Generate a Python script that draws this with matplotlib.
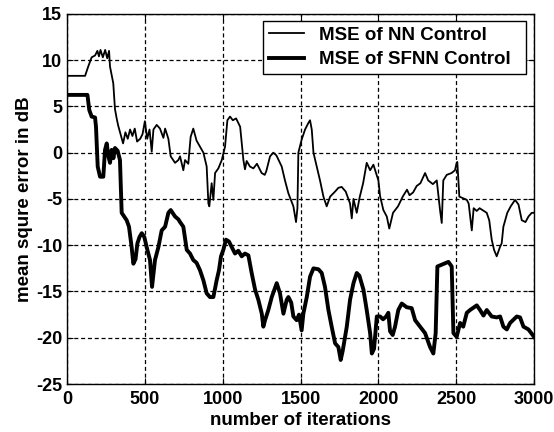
import matplotlib
matplotlib.use('Agg')
import matplotlib.pyplot as plt

# MSE of NN control (thin line)
nn_iter = [0, 116, 136, 158, 180, 195, 205, 215, 230, 245, 258, 270, 276, 297, 308, 320, 329, 345,
           360, 375, 390, 405, 420, 435, 450, 470, 485, 500, 515, 530, 544, 555, 576, 597, 619, 630,
           651, 666, 694, 715, 726, 747, 758, 779, 794, 811, 832, 854, 876, 897, 908, 914, 929, 940,
           951, 972, 994, 1015, 1030, 1047, 1065, 1086, 1112, 1133, 1143, 1154, 1175, 1197, 1220,
           1250, 1270, 1280, 1304, 1325, 1345, 1379, 1400, 1422, 1454, 1471, 1480, 1486, 1507, 1529,
           1550, 1561, 1572, 1583, 1604, 1625, 1647, 1668, 1690, 1722, 1743, 1764, 1790, 1818, 1829,
           1840, 1861, 1880, 1902, 1925, 1947, 1968, 2000, 2011, 2032, 2054, 2070, 2094, 2126, 2158,
           2184, 2200, 2223, 2246, 2270, 2300, 2320, 2350, 2375, 2396, 2407, 2417, 2439, 2470, 2492,
           2503, 2507, 2520, 2568, 2580, 2600, 2612, 2632, 2650, 2696, 2712, 2728, 2743, 2760, 2781,
           2792, 2803, 2828, 2850, 2878, 2900, 2921, 2945, 2964, 2985, 3000]
nn_mse = [8.3, 8.3, 9.3, 10.3, 10.5, 11.0, 10.4, 11.1, 10.3, 11.1, 10.2, 11.0, 9.3, 7.5, 4.7, 3.6, 2.9, 1.9,
          1.0, 2.2, 1.5, 2.5, 1.8, 2.6, 1.2, 1.5, 2.0, 3.4, 1.5, 2.5, 0.1, 2.5, 3.0, 2.6, 1.6, 2.6,
          1.5, -0.4, -1.1, -0.8, -0.4, -1.9, -0.8, -1.2, 1.7, 2.6, 1.3, 0.65, 0.0, -1.5, -5.5, -5.8, -3.3, -5.1,
          -2.2, -1.7, -0.8, 0.65, 3.5, 3.9, 3.5, 3.7, 2.8, -0.8, -1.8, -0.9, -1.5, -1.7, -1.2,
          -2.2, -2.4, -2.0, -0.4, 0.0, -0.3, -1.5, -3.0, -4.4, -5.8, -7.5, -6.0, 0.0, 1.4, 2.5,
          3.2, 3.5, 2.5, 0.0, -1.5, -3.0, -4.75, -5.8, -4.75, -4.2, -3.8, -3.7, -4.2, -5.5, -7.1,
          -5.0, -6.5, -4.8, -3.3, -1.1, -1.9, -1.3, -3.0, -4.7, -6.2, -6.9, -8.2, -6.5, -5.8, -4.7,
          -4.0, -4.6, -4.3, -3.6, -3.3, -2.2, -3.0, -3.4, -3.0, -6.2, -7.6, -3.0, -2.4, -2.2, -1.9,
          -1.1, -1.0, -4.75, -5.1, -5.5, -8.4, -6.0, -6.3, -6.0, -6.5, -7.3, -9.4, -10.5, -11.2, -10.2,
          -9.8, -8.0, -6.5, -5.8, -5.1, -5.6, -7.3, -7.5, -6.9, -6.5, -6.5]

# MSE of SFNN control (thick line)
sf_iter = [0, 131, 143, 158, 180, 186, 197, 212, 233, 244, 255, 266, 276, 287, 298, 308, 325, 340,
           351, 383, 398, 415, 426, 440, 452, 466, 480, 496, 516, 533, 546, 565, 587, 608, 630, 651,
           666, 694, 715, 726, 747, 769, 790, 811, 832, 854, 876, 897, 918, 940, 961, 976, 989, 1004,
           1021, 1040, 1058, 1079, 1100, 1122, 1143, 1165, 1186, 1208, 1229, 1251, 1261, 1272, 1293,
           1315, 1347, 1368, 1390, 1411, 1422, 1440, 1454, 1475, 1490, 1507, 1518, 1540, 1561, 1583,
           1615, 1636, 1657, 1679, 1700, 1722, 1743, 1758, 1771, 1797, 1818, 1840, 1861, 1878, 1904,
           1925, 1947, 1958, 1972, 1990, 2011, 2030, 2050, 2064, 2075, 2092, 2107, 2128, 2150, 2182,
           2214, 2236, 2268, 2300, 2332, 2353, 2368, 2379, 2407, 2450, 2471, 2482, 2503, 2525, 2545,
           2568, 2589, 2632, 2653, 2675, 2696, 2728, 2760, 2782, 2803, 2825, 2846, 2889, 2910, 2932,
           2964, 3000]
sf_mse = [6.24, 6.24, 4.6, 3.9, 3.8, 2.8, -1.5, -2.6, -2.6, 0.3, 1.0, -0.4, -1.1, 0.3, -0.6, 0.5, 0.2, -0.8,
          -6.5, -7.3, -8.0, -10.2, -12.0, -11.5, -9.8, -9.1, -8.7, -9.1, -10.5, -11.6, -14.5, -11.6, -10.2, -8.4, -8.0, -6.5,
          -6.2, -6.9, -7.2, -7.5, -8.0, -10.5, -10.9, -11.6, -11.9, -12.7, -13.8, -15.2, -15.6, -15.6, -13.8, -12.7, -11.2, -10.5,
          -9.4, -9.6, -10.2, -10.9, -10.6, -11.2, -10.9, -11.1, -13.0, -14.8, -15.9, -17.4, -18.8, -18.1, -17.0,
          -15.6, -14.1, -15.2, -17.4, -15.9, -15.6, -16.2, -17.7, -18.1, -17.5, -19.2, -17.4, -15.6, -13.4, -12.5,
          -12.6, -13.0, -14.5, -17.0, -18.8, -20.6, -21.0, -22.4, -21.4, -18.8, -15.9, -14.1, -13.0, -13.3, -14.8,
          -17.0, -19.5, -21.7, -21.2, -17.7, -17.7, -18.0, -17.7, -17.3, -19.3, -19.7, -18.8, -17.0, -16.3, -16.7,
          -16.8, -18.1, -18.8, -19.5, -21.0, -21.7, -19.5, -12.3, -12.1, -11.8, -12.3, -19.5, -19.9, -18.4, -18.8,
          -17.3, -17.0, -16.5, -17.0, -17.6, -17.0, -17.7, -17.8, -17.7, -18.8, -19.1, -18.4, -17.7, -17.8, -18.8,
          -19.1, -19.9]

xticks = [0, 500, 1000, 1500, 2000, 2500, 3000]
yticks = [-25, -20, -15, -10, -5, 0, 5, 10, 15]

plt.rcParams['font.family'] = ['Liberation Sans', 'DejaVu Sans']
plt.rcParams['lines.scale_dashes'] = False
plt.rcParams['axes.unicode_minus'] = False

fig = plt.figure(figsize=(5.54, 4.32), dpi=100)
ax = fig.add_axes([0.121, 0.111, 0.843, 0.857])

ax.plot(nn_iter, nn_mse, color='black', lw=1.3, label='MSE of NN Control')
ax.plot(sf_iter, sf_mse, color='black', lw=2.8, label='MSE of SFNN Control')

ax.set_xlim(0, 3000)
ax.set_ylim(-25, 15)
ax.set_xticks(xticks)
ax.set_yticks(yticks)
ax.grid(True, color='black', lw=0.9, linestyle=(0, (2.9, 2.0)))
ax.tick_params(direction='in', top=True, right=True, length=4, labelsize=13)
ax.tick_params(axis='x', pad=5)
ax.tick_params(axis='y', pad=3.5)
for lab in ax.get_xticklabels() + ax.get_yticklabels():
    lab.set_fontweight('bold')
for s in ax.spines.values():
    s.set_linewidth(1.0)

ax.set_xlabel('number of iterations', fontsize=13.5, fontweight='bold', labelpad=3)
ax.set_ylabel('mean squre error in dB', fontsize=13.5, fontweight='bold', labelpad=2)

# legend box stretched to the width used in the original (text left-aligned)
leg = ax.legend(loc='upper left', bbox_to_anchor=(0.4197, 0.0, 0.5632, 0.981), mode='expand',
                prop={'weight': 'bold', 'size': 13.5}, fancybox=False, framealpha=1,
                edgecolor='black', handlelength=1.9, handletextpad=0.75,
                borderaxespad=0, borderpad=0.31, labelspacing=0.4)
leg.get_frame().set_linewidth(1.0)

fig.savefig('out.png', dpi=100)
